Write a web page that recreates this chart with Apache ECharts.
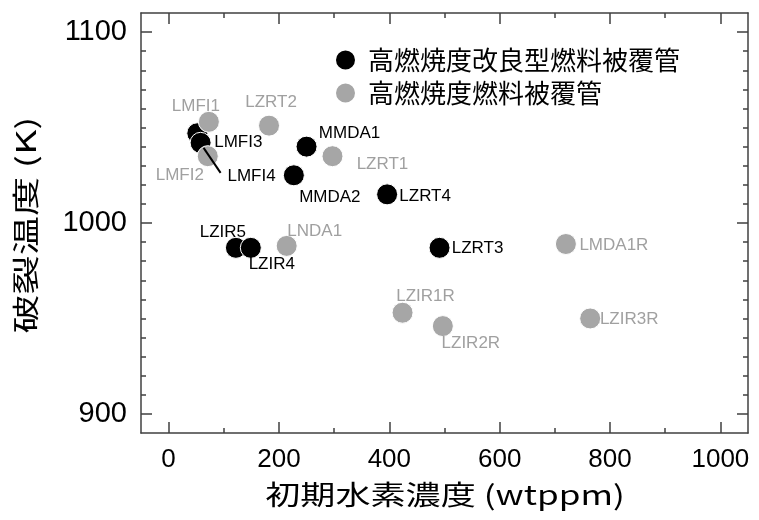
<!DOCTYPE html>
<html>
<head>
<meta charset="utf-8">
<script src="https://cdn.jsdelivr.net/npm/echarts@6/dist/echarts.min.js"></script>
<style>
  html, body { margin: 0; padding: 0; background: #fff; }
  #chart { width: 759px; height: 520px; }
</style>
</head>
<body>
<div id="chart"></div>
<script>
// Initial hydrogen concentration (wtppm) vs. burst temperature (K)
const seriesNames = ['高燃焼度改良型燃料被覆管', '高燃焼度燃料被覆管'];

const improvedNames = ['LMFI3', 'LMFI4', 'MMDA1', 'MMDA2', 'LZRT4', 'LZIR5', 'LZIR4', 'LZRT3'];
const improvedH     = [52, 58, 250, 227, 396, 122, 149, 491];
const improvedTemp  = [1047, 1042, 1040, 1025, 1015, 987, 987, 987];

const standardNames = ['LMFI1', 'LMFI2', 'LZRT2', 'LZRT1', 'LNDA1', 'LZIR1R', 'LZIR2R', 'LMDA1R', 'LZIR3R'];
const standardH     = [73, 71, 182, 297, 214, 424, 497, 720, 764];
const standardTemp  = [1053, 1035, 1051, 1035, 988, 953, 946, 989, 950];

const xMajorTicks = [0, 200, 400, 600, 800, 1000];
const xMinorTicks = [100, 300, 500, 700, 900];
const yMajorTicks = [900, 1000, 1100];
const yMinorTicks = [910, 920, 930, 940, 950, 960, 970, 980, 990,
                     1010, 1020, 1030, 1040, 1050, 1060, 1070, 1080, 1090];

// label placement: shift of each label centre from its point (px)
const labelShift = {
  LMFI3: [41, 9], LMFI4: [51, 33], MMDA1: [43, -13], MMDA2: [36, 22],
  LZRT4: [38, 2], LZIR5: [-13, -16], LZIR4: [21, 16], LZRT3: [38, 0],
  LMFI1: [-13, -16], LMFI2: [-28, 19], LZRT2: [2, -23], LZRT1: [50, 8],
  LNDA1: [28, -15], LZIR1R: [23, -16], LZIR2R: [28, 17], LMDA1R: [48, 1],
  LZIR3R: [39, 1]
};
// leader line from a point towards its label: start / end shift from the point (px)
const leader = { name: 'LMFI4', from: [3, 5], to: [20, 30] };

const AXIS_COLOR = '#404040';
const BLACK = '#000000';
const GREY = '#a6a6a6';
const LATIN = 'Liberation Sans, Arial, sans-serif';
const CJK = '"Noto Sans CJK JP", "Noto Sans CJK SC", sans-serif';

function points(names, xs, ys) {
  return names.map((n, i) => ({ name: n, value: [xs[i], ys[i]] }));
}

function tickAxis(base, values, len, showLine) {
  return Object.assign({
    type: 'value',
    axisLine: { show: showLine, onZero: false, lineStyle: { color: AXIS_COLOR, width: 1.5 } },
    axisTick: { show: true, inside: true, length: len, customValues: values,
                lineStyle: { color: AXIS_COLOR, width: 1.5 } },
    axisLabel: { show: false },
    splitLine: { show: false }
  }, base);
}

const xBase = { min: -50, max: 1050 };
const yBase = { min: 890, max: 1110 };
const plain = v => String(v);

const xMain = tickAxis(Object.assign({ position: 'bottom' }, xBase), xMajorTicks, 11, true);
xMain.axisLabel = {
  show: true, customValues: xMajorTicks, margin: 14, formatter: plain,
  fontFamily: '"Liberation Sans Narrow", "Arial Narrow", ' + LATIN,
  fontSize: 26, color: '#000'
};
const yMain = tickAxis(Object.assign({ position: 'left' }, yBase), yMajorTicks, 11, true);
yMain.axisLabel = {
  show: true, customValues: yMajorTicks, margin: 14, formatter: plain,
  fontFamily: LATIN, fontSize: 29, color: '#000'
};

function labelFor(color) {
  return {
    show: true, position: 'inside', formatter: p => p.name,
    fontFamily: LATIN, fontSize: 17, color: color
  };
}

function shiftLayout(names) {
  return function (params) {
    const s = labelShift[names[params.dataIndex]] || [0, 0];
    return { dx: s[0], dy: s[1] };
  };
}

const chart = echarts.init(document.getElementById('chart'), null, { renderer: 'canvas' });

const titles = [
  {
    type: 'text', x: 445, y: 495, scaleX: 1.3,
    style: {
      text: '初期水素濃度 (wtppm)', fontFamily: CJK, fontSize: 27,
      fill: '#000', align: 'center', verticalAlign: 'middle'
    }
  },
  {
    type: 'text', x: 26, y: 225, rotation: Math.PI / 2, scaleX: 1.45,
    style: {
      text: '破裂温度 (K)', fontFamily: CJK, fontSize: 27,
      fill: '#000', align: 'center', verticalAlign: 'middle'
    }
  }
];

chart.setOption({
  animation: false,
  backgroundColor: '#ffffff',
  grid: { left: 141, right: 11, top: 13, bottom: 87, containLabel: false },
  xAxis: [
    xMain,
    tickAxis(Object.assign({ position: 'bottom' }, xBase), xMinorTicks, 5, false),
    tickAxis(Object.assign({ position: 'top' }, xBase), xMajorTicks, 11, true),
    tickAxis(Object.assign({ position: 'top' }, xBase), xMinorTicks, 5, false)
  ],
  yAxis: [
    yMain,
    tickAxis(Object.assign({ position: 'left' }, yBase), yMinorTicks, 5, false),
    tickAxis(Object.assign({ position: 'right' }, yBase), yMajorTicks, 11, true),
    tickAxis(Object.assign({ position: 'right' }, yBase), yMinorTicks, 5, false)
  ],
  legend: {
    orient: 'vertical', left: 329, top: 42,
    itemWidth: 21, itemHeight: 21, itemGap: 7,
    icon: 'circle',
    textStyle: { fontFamily: CJK, fontSize: 26, lineHeight: 21, color: '#000', padding: [0, 0, 0, 7] },
    data: seriesNames
  },
  graphic: titles,
  series: [
    {
      name: seriesNames[0], type: 'scatter', symbol: 'circle', symbolSize: 21,
      itemStyle: { color: BLACK, borderColor: '#fff', borderWidth: 1, opacity: 1 },
      label: labelFor(BLACK),
      labelLayout: shiftLayout(improvedNames),
      data: points(improvedNames, improvedH, improvedTemp)
    },
    {
      name: seriesNames[1], type: 'scatter', symbol: 'circle', symbolSize: 21,
      itemStyle: { color: GREY, borderColor: '#fff', borderWidth: 1, opacity: 1 },
      label: labelFor('#a0a0a0'),
      labelLayout: shiftLayout(standardNames),
      data: points(standardNames, standardH, standardTemp)
    }
  ]
});

// leader line, placed from the point's own pixel position
const li = improvedNames.indexOf(leader.name);
const p = chart.convertToPixel({ seriesIndex: 0 }, [improvedH[li], improvedTemp[li]]);
chart.setOption({
  graphic: titles.concat([{
    type: 'line', z: 100,
    shape: { x1: p[0] + leader.from[0], y1: p[1] + leader.from[1],
             x2: p[0] + leader.to[0], y2: p[1] + leader.to[1] },
    style: { stroke: '#000', lineWidth: 2 }
  }])
});
</script>
</body>
</html>
